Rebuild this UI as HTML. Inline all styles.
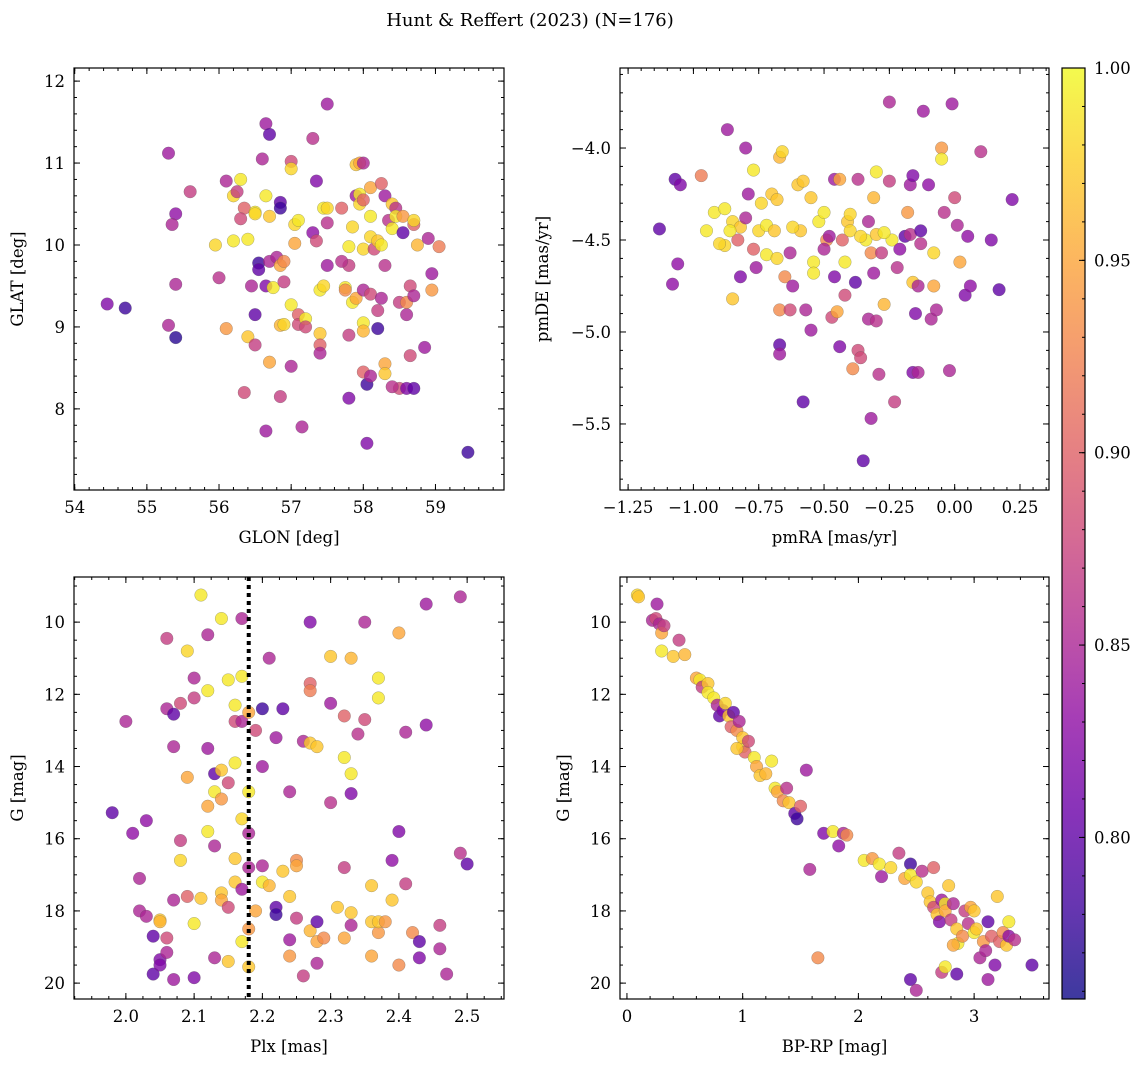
<!DOCTYPE html>
<html><head><meta charset="utf-8">
<style>
html,body{margin:0;padding:0;background:#fff;}
svg{display:block;font-family:"DejaVu Serif","Liberation Serif",serif;}
</style></head>
<body>
<svg id="chart" width="1148" height="1067" xmlns="http://www.w3.org/2000/svg">
<defs>
<linearGradient id="plasma" x1="0" y1="1" x2="0" y2="0">
<stop offset="0" stop-color="#0d0887"/><stop offset="0.1" stop-color="#41049d"/><stop offset="0.2" stop-color="#6a00a8"/><stop offset="0.3" stop-color="#8f0da4"/><stop offset="0.4" stop-color="#b12a90"/><stop offset="0.5" stop-color="#cc4778"/><stop offset="0.6" stop-color="#e16462"/><stop offset="0.7" stop-color="#f2844b"/><stop offset="0.8" stop-color="#fca636"/><stop offset="0.9" stop-color="#fcce25"/><stop offset="1" stop-color="#f0f921"/>
</linearGradient>
</defs>
<text x="530" y="26" text-anchor="middle" font-size="18">Hunt &amp; Reffert (2023) (N=176)</text>
</svg>
<script>
// ---- data arrays (x, y, membership probability) ----
const glonGlat = [[54.45,9.28,.82],[54.7,9.23,.78],[55.3,11.12,.84],[55.4,10.38,.83],[55.35,10.25,.85],[55.4,9.52,.85],[55.4,8.87,.77],[55.6,10.65,.87],[55.3,9.02,.85],[55.95,10.0,.98],[56.0,9.6,.86],[56.1,10.78,.85],[56.1,8.98,.94],[56.2,10.6,.98],[56.2,10.05,.99],[56.25,10.65,.87],[56.3,10.8,.99],[56.35,10.45,.9],[56.3,10.32,.88],[56.4,10.07,.99],[56.35,8.2,.88],[56.4,8.88,.97],[56.45,9.5,.85],[56.5,10.4,.99],[56.5,10.38,.98],[56.55,9.78,.78],[56.55,9.7,.8],[56.5,9.15,.8],[56.5,8.78,.87],[56.6,11.05,.85],[56.65,11.48,.84],[56.7,11.35,.8],[56.65,10.6,.99],[56.7,10.35,.97],[56.65,9.5,.82],[56.7,9.8,.85],[56.7,8.57,.95],[56.65,7.73,.84],[56.75,9.48,.99],[56.8,9.85,.85],[56.85,10.52,.8],[56.85,10.45,.78],[56.85,9.75,.95],[56.9,9.55,.87],[56.85,9.02,.96],[56.85,8.15,.87],[56.9,9.03,.98],[57.0,11.02,.88],[57.0,10.93,.98],[57.05,10.25,.98],[57.05,10.02,.95],[57.0,9.27,.99],[57.0,8.52,.85],[57.1,10.3,.99],[57.1,9.15,.9],[57.1,9.03,.88],[57.15,7.78,.85],[57.2,9.1,.99],[57.2,9.0,.88],[57.3,11.3,.86],[57.3,10.15,.83],[57.35,10.78,.82],[57.35,10.05,.88],[57.4,9.45,.99],[57.4,8.92,.97],[57.4,8.78,.9],[57.4,8.68,.85],[57.45,10.45,.99],[57.45,9.5,.98],[57.5,11.72,.84],[57.5,10.27,.86],[57.5,9.75,.84],[57.5,10.45,.98],[57.7,10.45,.9],[57.75,9.48,.99],[57.75,9.45,.93],[57.8,9.98,.99],[57.8,9.75,.87],[57.8,8.9,.87],[57.8,8.13,.82],[57.85,10.22,.98],[57.85,9.3,.99],[57.9,9.35,.95],[57.9,10.6,.84],[57.9,10.98,.97],[57.95,11.0,.95],[57.95,10.62,.99],[57.95,10.5,.98],[58.0,11.0,.85],[58.0,10.55,.9],[58.0,9.95,.98],[58.0,9.45,.85],[58.0,9.05,.99],[58.0,8.95,.96],[58.0,8.45,.9],[58.05,8.3,.78],[58.05,7.58,.82],[58.1,10.7,.95],[58.1,10.35,.99],[58.1,10.1,.98],[58.1,9.4,.88],[58.1,8.4,.85],[58.15,9.95,.88],[58.2,10.05,.97],[58.2,9.2,.87],[58.2,8.98,.78],[58.25,10.75,.9],[58.25,10.0,.99],[58.25,9.35,.85],[58.3,10.6,.84],[58.3,9.75,.86],[58.3,8.55,.95],[58.3,8.43,.97],[58.35,10.3,.86],[58.4,10.5,.97],[58.4,10.2,.99],[58.45,10.45,.86],[58.45,10.35,.99],[58.5,9.3,.87],[58.5,8.25,.88],[58.55,10.35,.94],[58.55,10.15,.8],[58.6,9.15,.85],[58.6,9.3,.93],[58.6,8.25,.82],[58.65,9.5,.88],[58.65,8.65,.88],[58.7,10.25,.9],[58.7,10.3,.98],[58.75,10.0,.96],[58.7,9.38,.85],[58.85,8.75,.84],[58.9,10.08,.85],[58.95,9.45,.94],[58.95,9.65,.84],[59.05,9.98,.92],[59.45,7.47,.78],[58.7,8.25,.8],[58.4,8.27,.86],[57.7,9.8,.86],[56.9,9.8,.93]];
const pmraPmde = [[-1.13,-4.44,.8],[-1.07,-4.17,.8],[-1.05,-4.2,.82],[-1.06,-4.63,.83],[-1.08,-4.74,.83],[-0.97,-4.15,.92],[-0.92,-4.35,.99],[-0.88,-4.33,.99],[-0.87,-3.9,.84],[-0.88,-4.53,.98],[-0.85,-4.4,.98],[-0.85,-4.82,.97],[-0.83,-4.5,.9],[-0.82,-4.7,.82],[-0.82,-4.43,.97],[-0.8,-4.0,.84],[-0.8,-4.38,.85],[-0.79,-4.25,.84],[-0.77,-4.55,.9],[-0.76,-4.65,.84],[-0.77,-4.12,.99],[-0.75,-4.45,.98],[-0.74,-4.3,.98],[-0.72,-4.42,.99],[-0.72,-4.58,.99],[-0.7,-4.25,.97],[-0.69,-4.45,.97],[-0.68,-4.6,.98],[-0.67,-4.05,.96],[-0.66,-4.02,.98],[-0.68,-4.28,.97],[-0.67,-4.88,.93],[-0.67,-5.07,.8],[-0.67,-5.12,.84],[-0.65,-4.7,.93],[-0.63,-4.88,.88],[-0.63,-4.57,.85],[-0.62,-4.75,.84],[-0.6,-4.2,.97],[-0.58,-4.18,.97],[-0.59,-4.45,.97],[-0.58,-5.38,.8],[-0.57,-4.88,.85],[-0.55,-4.99,.84],[-0.54,-4.62,.99],[-0.54,-4.68,.99],[-0.52,-4.4,.99],[-0.5,-4.35,.99],[-0.49,-4.5,.93],[-0.48,-4.48,.84],[-0.47,-4.92,.88],[-0.46,-4.7,.82],[-0.45,-4.89,.95],[-0.44,-5.08,.82],[-0.46,-4.17,.84],[-0.44,-4.17,.95],[-0.43,-4.5,.9],[-0.42,-4.62,.99],[-0.42,-4.8,.88],[-0.41,-4.4,.97],[-0.4,-4.36,.98],[-0.39,-5.2,.93],[-0.38,-4.73,.8],[-0.37,-4.17,.86],[-0.37,-5.1,.88],[-0.36,-5.14,.88],[-0.34,-4.5,.99],[-0.33,-4.4,.85],[-0.35,-5.7,.8],[-0.33,-4.93,.85],[-0.32,-4.57,.93],[-0.32,-5.47,.84],[-0.31,-4.27,.96],[-0.31,-4.68,.84],[-0.3,-4.47,.97],[-0.3,-4.13,.99],[-0.3,-4.94,.86],[-0.29,-5.23,.86],[-0.28,-4.57,.87],[-0.27,-4.85,.96],[-0.25,-4.18,.87],[-0.25,-3.75,.85],[-0.24,-4.5,.99],[-0.23,-5.38,.87],[-0.22,-4.65,.86],[-0.21,-4.55,.83],[-0.19,-4.48,.8],[-0.18,-4.35,.94],[-0.17,-4.2,.84],[-0.17,-4.47,.86],[-0.16,-4.15,.82],[-0.16,-4.73,.97],[-0.16,-5.22,.82],[-0.15,-4.9,.82],[-0.14,-4.75,.85],[-0.14,-5.22,.85],[-0.13,-4.45,.8],[-0.13,-4.52,.86],[-0.12,-3.8,.84],[-0.1,-4.2,.83],[-0.09,-4.93,.85],[-0.08,-4.57,.98],[-0.08,-4.75,.95],[-0.07,-4.88,.85],[-0.05,-4.0,.94],[-0.05,-4.06,.99],[-0.04,-4.35,.86],[-0.02,-5.21,.85],[-0.01,-3.76,.84],[0.0,-4.27,.88],[0.01,-4.42,.85],[0.02,-4.62,.95],[0.04,-4.8,.82],[0.05,-4.48,.83],[0.06,-4.75,.83],[0.1,-4.02,.86],[0.14,-4.5,.82],[0.17,-4.77,.8],[0.22,-4.28,.82],[-0.95,-4.45,.99],[-0.9,-4.52,.98],[-0.86,-4.45,.99],[-0.62,-4.43,.98],[-0.4,-4.45,.98],[-0.36,-4.48,.98],[-0.27,-4.46,.99],[-0.55,-4.27,.97],[-0.5,-4.55,.85]];
const plxG = [[1.98,15.28,.8],[2.0,12.75,.85],[2.01,15.85,.83],[2.02,17.1,.85],[2.02,18.0,.85],[2.03,18.15,.85],[2.03,15.5,.83],[2.04,18.7,.8],[2.04,19.75,.8],[2.05,18.25,.97],[2.05,18.3,.96],[2.05,19.35,.82],[2.05,19.5,.82],[2.06,12.4,.85],[2.06,10.45,.87],[2.06,18.75,.88],[2.06,19.15,.85],[2.07,12.55,.8],[2.07,13.45,.85],[2.07,17.7,.85],[2.07,19.9,.84],[2.08,16.6,.98],[2.08,16.05,.87],[2.08,12.25,.88],[2.09,10.8,.98],[2.09,14.3,.95],[2.09,17.6,.9],[2.1,11.55,.85],[2.1,12.1,.87],[2.1,18.35,.99],[2.1,19.85,.82],[2.11,9.25,.99],[2.11,17.65,.97],[2.12,15.1,.95],[2.12,15.8,.99],[2.12,10.35,.85],[2.12,13.5,.84],[2.12,11.9,.99],[2.13,16.2,.85],[2.13,14.7,.99],[2.13,14.2,.8],[2.13,19.3,.85],[2.14,9.9,.99],[2.14,14.1,.97],[2.14,14.9,.94],[2.14,17.5,.97],[2.14,17.7,.95],[2.15,11.6,.99],[2.15,14.45,.88],[2.15,17.9,.88],[2.15,19.4,.97],[2.16,12.75,.88],[2.16,13.9,.99],[2.16,12.3,.99],[2.16,16.55,.97],[2.16,17.2,.97],[2.17,11.5,.99],[2.17,15.45,.98],[2.17,18.85,.99],[2.17,9.9,.85],[2.17,12.75,.85],[2.17,17.4,.84],[2.18,12.5,.95],[2.18,14.7,.99],[2.18,15.85,.85],[2.18,16.8,.85],[2.18,18.5,.94],[2.18,19.55,.97],[2.19,13.0,.88],[2.19,18.0,.95],[2.2,12.4,.78],[2.2,14.0,.84],[2.2,16.75,.85],[2.2,17.2,.99],[2.21,11.0,.85],[2.21,17.3,.96],[2.22,13.2,.84],[2.22,17.9,.8],[2.22,18.1,.78],[2.23,12.4,.8],[2.23,16.9,.97],[2.24,17.6,.97],[2.24,19.25,.94],[2.24,14.7,.85],[2.24,18.8,.84],[2.25,16.6,.93],[2.25,16.75,.95],[2.25,18.2,.87],[2.26,13.3,.85],[2.26,19.8,.87],[2.27,11.7,.9],[2.27,11.9,.92],[2.27,10.0,.82],[2.27,13.35,.97],[2.27,18.55,.96],[2.28,13.45,.97],[2.28,18.85,.95],[2.28,19.45,.85],[2.28,18.3,.8],[2.29,18.75,.93],[2.3,10.95,.97],[2.3,12.25,.84],[2.3,15.0,.86],[2.31,17.9,.97],[2.32,16.8,.87],[2.32,18.75,.95],[2.32,12.6,.9],[2.32,13.75,.99],[2.33,18.05,.97],[2.33,11.0,.96],[2.33,14.2,.99],[2.33,14.75,.82],[2.33,18.4,.85],[2.34,13.1,.86],[2.35,10.0,.85],[2.35,12.7,.88],[2.36,17.3,.97],[2.36,19.25,.95],[2.36,18.3,.97],[2.37,18.6,.94],[2.37,18.3,.97],[2.37,12.1,.99],[2.37,11.55,.99],[2.38,18.3,.94],[2.39,16.6,.83],[2.39,17.7,.97],[2.4,10.3,.95],[2.4,15.8,.82],[2.4,19.5,.93],[2.41,13.05,.85],[2.41,17.25,.87],[2.42,18.6,.93],[2.43,18.85,.8],[2.43,19.3,.82],[2.44,9.5,.84],[2.44,12.85,.83],[2.46,18.4,.87],[2.46,19.05,.85],[2.47,19.75,.85],[2.49,9.3,.85],[2.49,16.4,.86],[2.5,16.7,.8]];
const bprpG = [[0.09,9.25,.98],[0.1,9.3,.97],[0.22,9.95,.85],[0.25,9.9,.88],[0.28,10.05,.85],[0.26,9.5,.84],[0.3,10.3,.95],[0.32,10.1,.87],[0.3,10.8,.99],[0.4,10.95,.97],[0.45,10.5,.87],[0.5,10.9,.96],[0.6,11.55,.95],[0.63,11.6,.99],[0.65,11.8,.87],[0.7,11.7,.97],[0.7,11.95,.99],[0.75,12.1,.99],[0.78,12.3,.85],[0.8,12.6,.8],[0.83,12.45,.82],[0.85,12.25,.98],[0.88,12.6,.97],[0.9,12.9,.9],[0.92,12.5,.8],[0.95,13.0,.93],[0.97,12.75,.85],[1.0,13.45,.99],[1.0,13.2,.97],[1.02,13.6,.9],[1.05,13.3,.88],[1.1,13.75,.99],[1.12,14.0,.95],[1.15,14.25,.97],[1.2,14.2,.96],[1.25,13.85,.99],[1.28,14.6,.99],[1.3,14.7,.95],[1.35,14.95,.93],[1.38,14.6,.86],[1.4,15.0,.97],[1.45,15.3,.8],[1.47,15.45,.78],[1.5,15.1,.9],[1.55,14.1,.84],[1.58,16.85,.85],[1.7,15.85,.82],[1.78,15.8,.99],[1.83,16.2,.83],[1.87,15.85,.85],[2.05,16.6,.99],[2.12,16.55,.94],[2.18,16.7,.99],[2.2,17.05,.84],[2.28,16.8,.98],[2.35,16.4,.87],[2.4,17.1,.95],[2.45,16.7,.78],[2.45,17.0,.99],[2.5,17.2,.98],[2.55,16.9,.86],[2.6,17.5,.97],[2.62,17.75,.97],[2.65,16.8,.9],[2.65,17.9,.88],[2.68,18.1,.97],[2.7,18.3,.82],[2.72,17.7,.84],[2.75,17.8,.99],[2.75,18.0,.95],[2.78,17.3,.97],[2.8,18.25,.87],[2.82,17.8,.85],[2.85,18.5,.97],[2.86,18.9,.99],[2.9,18.7,.93],[2.92,18.0,.87],[2.95,18.35,.86],[2.97,17.9,.95],[3.0,18.6,.99],[3.02,18.5,.97],[3.05,19.3,.85],[3.08,18.85,.94],[3.1,19.1,.85],[3.12,18.3,.8],[3.15,18.7,.9],[3.18,19.5,.82],[3.2,17.6,.97],[3.22,18.85,.9],[3.25,18.6,.93],[3.28,18.95,.97],[3.3,18.3,.99],[3.3,18.7,.83],[3.35,18.8,.86],[3.5,19.5,.8],[3.12,19.9,.84],[2.45,19.9,.8],[2.5,20.2,.85],[2.72,19.7,.87],[2.75,19.55,.99],[2.85,19.75,.8],[1.65,19.3,.93],[0.95,13.5,.97],[1.9,15.9,.93],[2.82,18.95,.95],[3.0,18.0,.97]];
const plxCut = 2.18;
const cbTicks = [0.80, 0.85, 0.90, 0.95, 1.00];
const cbLabels = ["0.80","0.85","0.90","0.95","1.00"];
const tlXTicks = [54,55,56,57,58,59];
const tlYTicks = [8,9,10,11,12];
const trXTicks = [-1.25,-1.00,-0.75,-0.50,-0.25,0.00,0.25];
const trXLabels = ["\u22121.25","\u22121.00","\u22120.75","\u22120.50","\u22120.25","0.00","0.25"];
const trYTicks = [-4.0,-4.5,-5.0,-5.5];
const trYLabels = ["\u22124.0","\u22124.5","\u22125.0","\u22125.5"];
const blXTicks = [2.0,2.1,2.2,2.3,2.4,2.5];
const gTicks = [10,12,14,16,18,20];
const brXTicks = [0,1,2,3];

const NS = "http://www.w3.org/2000/svg";
const svg = document.getElementById('chart');
function el(tag, attrs, parent){const e=document.createElementNS(NS,tag);for(const k in attrs)e.setAttribute(k,attrs[k]);(parent||svg).appendChild(e);return e;}
const stops=[[0,[13,8,135]],[.1,[65,4,157]],[.2,[106,0,168]],[.3,[143,13,164]],[.4,[177,42,144]],[.5,[204,71,120]],[.6,[225,100,98]],[.7,[242,132,75]],[.8,[252,166,54]],[.9,[252,206,37]],[1,[240,249,33]]];
const CMIN=0.758, CMAX=1.0;
function plasma(v){let t=(v-CMIN)/(CMAX-CMIN);t=Math.max(0,Math.min(1,t));for(let i=1;i<stops.length;i++){if(t<=stops[i][0]){const a=stops[i-1],b=stops[i];const f=(t-a[0])/(b[0]-a[0]);const c=a[1].map((x,j)=>Math.round(x+(b[1][j]-x)*f));return `rgb(${c[0]},${c[1]},${c[2]})`;}}return 'rgb(240,249,33)';}

function panel(cfg){
  const {name,x0,y0,w,h,xmin,xmax,ymin,ymax,inv,data,xt,xl,yt,yl,xminor,yminor,xlabel,ylabel} = cfg;
  const g = el('g',{});
  
  
  const sx = v => x0 + (v-xmin)/(xmax-xmin)*w;
  const sy = v => inv ? y0 + (v-ymin)/(ymax-ymin)*h : y0 + h - (v-ymin)/(ymax-ymin)*h;
  const cp = 'clip-'+name;
  const cl = el('clipPath',{id:cp},g); el('rect',{x:x0,y:y0,width:w,height:h},cl);
  const pts = el('g',{'clip-path':`url(#${cp})`},g);
  data.forEach(d=>{
    const c = el('circle',{cx:sx(d[0]),cy:sy(d[1]),r:6.3,fill:plasma(d[2]),'fill-opacity':0.8,stroke:'#555','stroke-width':0.4,'stroke-opacity':0.6},pts);
    
    
  });
  if(cfg.vline!==undefined){
    const l = el('line',{x1:sx(cfg.vline),x2:sx(cfg.vline),y1:y0,y2:y0+h,stroke:'#000','stroke-width':4,'stroke-dasharray':'4,4'},pts);
    
    
  }
  el('rect',{x:x0,y:y0,width:w,height:h,fill:'none',stroke:'#000','stroke-width':1.2},g);
  const lo=Math.min(xmin,xmax), hi=Math.max(xmin,xmax);
  for(let v=Math.ceil(lo/xminor-1e-6)*xminor; v<=hi+1e-9; v+=xminor){const X=sx(v);el('line',{x1:X,x2:X,y1:y0+h,y2:y0+h-3,stroke:'#000'},g);el('line',{x1:X,x2:X,y1:y0,y2:y0+3,stroke:'#000'},g);}
  const ylo=Math.min(ymin,ymax), yhi=Math.max(ymin,ymax);
  for(let v=Math.ceil(ylo/yminor-1e-6)*yminor; v<=yhi+1e-9; v+=yminor){const Y=sy(v);el('line',{x1:x0,x2:x0+3,y1:Y,y2:Y,stroke:'#000'},g);el('line',{x1:x0+w,x2:x0+w-3,y1:Y,y2:Y,stroke:'#000'},g);}
  xt.forEach((v,i)=>{const X=sx(v);el('line',{x1:X,x2:X,y1:y0+h,y2:y0+h-6,stroke:'#000'},g);el('line',{x1:X,x2:X,y1:y0,y2:y0+6,stroke:'#000'},g);
    const t=el('text',{x:X,y:y0+h+23,'text-anchor':'middle','font-size':16.5},g);t.textContent=xl[i];
    
    });
  yt.forEach((v,i)=>{const Y=sy(v);el('line',{x1:x0,x2:x0+6,y1:Y,y2:Y,stroke:'#000'},g);el('line',{x1:x0+w,x2:x0+w-6,y1:Y,y2:Y,stroke:'#000'},g);
    const t=el('text',{x:x0-9,y:Y+6,'text-anchor':'end','font-size':16.5},g);t.textContent=yl[i];
    
    });
  const xt2=el('text',{x:x0+w/2,y:y0+h+53,'text-anchor':'middle','font-size':16.5},g);xt2.textContent=xlabel;
  
  
  const yx=cfg.ylx;
  const yt2=el('text',{x:yx,y:y0+h/2,'text-anchor':'middle','font-size':16.5,transform:`rotate(-90 ${yx} ${y0+h/2})`},g);yt2.textContent=ylabel;
  
  
}
const S=String;
panel({name:'glon-glat-panel',x0:74,y0:68,w:430,h:422,xmin:53.99,xmax:59.95,ymin:7.01,ymax:12.16,inv:false,data:glonGlat,xt:tlXTicks,xl:tlXTicks.map(S),yt:tlYTicks,yl:tlYTicks.map(S),xminor:0.2,yminor:0.2,xlabel:'GLON [deg]',ylabel:'GLAT [deg]',ylx:23});
panel({name:'proper-motion-panel',x0:620,y0:68,w:429,h:422,xmin:-1.281,xmax:0.361,ymin:-5.859,ymax:-3.565,inv:false,data:pmraPmde,xt:trXTicks,xl:trXLabels,yt:trYTicks,yl:trYLabels,xminor:0.05,yminor:0.1,xlabel:'pmRA [mas/yr]',ylabel:'pmDE [mas/yr]',ylx:548});
panel({name:'parallax-magnitude-panel',x0:74,y0:577,w:430,h:422,xmin:1.924,xmax:2.554,ymin:8.75,ymax:20.44,inv:true,data:plxG,xt:blXTicks,xl:blXTicks.map(v=>v.toFixed(1)),yt:gTicks,yl:gTicks.map(S),xminor:0.025,yminor:0.5,xlabel:'Plx [mas]',ylabel:'G [mag]',ylx:23,vline:plxCut});
panel({name:'color-magnitude-panel',x0:620,y0:577,w:429,h:422,xmin:-0.06,xmax:3.647,ymin:8.75,ymax:20.44,inv:true,data:bprpG,xt:brXTicks,xl:brXTicks.map(S),yt:gTicks,yl:gTicks.map(S),xminor:0.2,yminor:0.5,xlabel:'BP-RP [mag]',ylabel:'G [mag]',ylx:569});

// colorbar
const cb = el('g',{});


const cx0=1062, cw=23, cy0=68, ch=931;
el('rect',{x:cx0,y:cy0,width:cw,height:ch,fill:'url(#plasma)','fill-opacity':0.8},cb);
el('rect',{x:cx0,y:cy0,width:cw,height:ch,fill:'none',stroke:'#000','stroke-width':1.2},cb);
const cyS = v => cy0 + ch - (v-CMIN)/(CMAX-CMIN)*ch;
for(let v=0.76; v<=1.0001; v+=0.01){const Y=cyS(v);el('line',{x1:cx0+cw,x2:cx0+cw-3,y1:Y,y2:Y,stroke:'#000'},cb);}
cbTicks.forEach((v,i)=>{const Y=cyS(v);el('line',{x1:cx0+cw,x2:cx0+cw-6,y1:Y,y2:Y,stroke:'#000'},cb);
  const t=el('text',{x:cx0+cw+9,y:Y+6,'font-size':16.5},cb);t.textContent=cbLabels[i];
  
  });
</script>
</body></html>
